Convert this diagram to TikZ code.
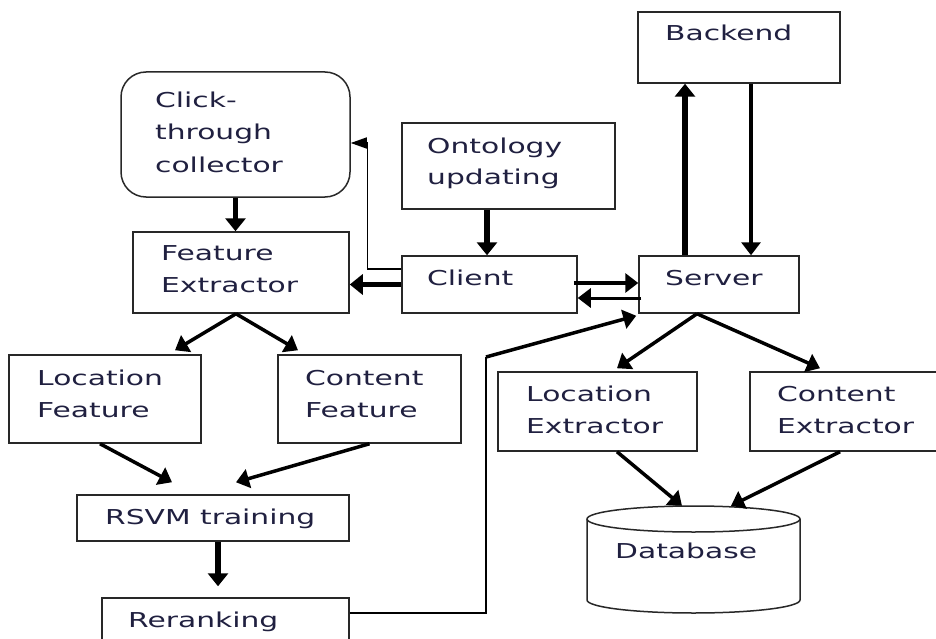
\documentclass[tikz,border=0pt]{standalone}
\usepackage{fontspec}
\newfontfamily\lblfont{DejaVu Sans}[FakeStretch=1.45]
\usetikzlibrary{arrows.meta,calc}
\definecolor{txt}{RGB}{32,32,64}
\definecolor{ln}{RGB}{40,40,40}
\tikzset{
  box/.style={draw=ln, line width=1.5pt, inner sep=0pt, fill=white},
  lbl/.style={anchor=base west, inner sep=0pt, text=txt, align=left,
    font=\lblfont\fontsize{20.5}{32}\selectfont},
  fat/.style={line width=5.5pt, -{Triangle[length=13pt,width=20pt]}},
  med/.style={line width=3.5pt, -{Triangle[length=13pt,width=19pt]}},
  thinl/.style={line width=1.5pt},
  thinarr/.style={line width=1.5pt, -{Triangle[length=16pt,width=11pt]}}
}
\begin{document}
\begin{tikzpicture}[x=1pt,y=-1pt]
\useasboundingbox (0,0) rectangle (936,639);
\fill[white] (0,0) rectangle (936,639);
\clip (0,0) rectangle (936,639);
% boxes
\node[box, rounded corners=25pt, minimum width=229pt, minimum height=125pt] (click) at (235.5,134.5) {};
\node[box, minimum width=216pt, minimum height=81pt] (fe) at (241,272.5) {};
\node[box, minimum width=213pt, minimum height=86pt] (onto) at (508.5,166) {};
\node[box, minimum width=175pt, minimum height=57pt] (client) at (489.5,284.5) {};
\node[box, minimum width=160pt, minimum height=57pt] (server) at (719,284.5) {};
\node[box, minimum width=202pt, minimum height=71pt] (backend) at (739,47.5) {};
\node[box, minimum width=192pt, minimum height=88pt] (locf) at (105,399) {};
\node[box, minimum width=183pt, minimum height=88pt] (conf) at (369.5,399) {};
\node[box, minimum width=272pt, minimum height=46pt] (rsvm) at (213,518) {};
\node[box, minimum width=247pt, minimum height=52pt] (rerank) at (225.5,624) {};
\node[box, minimum width=199pt, minimum height=79pt] (locx) at (597.5,411.5) {};
\node[box, minimum width=200pt, minimum height=79pt] (conx) at (850,411.5) {};
% database cylinder
\node[inner sep=0pt, minimum width=213pt, minimum height=107pt] (db) at (693.5,559.5) {};
\draw[ln, line width=1.5pt, fill=white] (587,519) -- (587,600)
  arc[start angle=180, end angle=360, x radius=106.5pt, y radius=13pt] -- (800,519);
\draw[ln, line width=1.5pt] (693.5,519) ellipse [x radius=106.5pt, y radius=13pt];
% labels (base = baseline of the last line)
\node[lbl] (tclick) at (155,172) {Click-\\through\\collector};
\node[lbl] (tfe) at (161,292) {Feature\\Extractor};
\node[lbl] (tonto) at (427,185) {Ontology\\updating};
\node[lbl] (tclient) at (427,285) {Client};
\node[lbl] (tserver) at (665,285) {Server};
\node[lbl] (tbackend) at (665,40.7) {Backend};
\node[lbl] (tlocf) at (37,417) {Location\\Feature};
\node[lbl] (tconf) at (305,417) {Content\\Feature};
\node[lbl] (trsvm) at (105,524) {RSVM training};
\node[lbl] (trerank) at (128,627) {Reranking};
\node[lbl] (tlocx) at (526,433) {Location\\Extractor};
\node[lbl] (tconx) at (777,433) {Content\\Extractor};
\node[lbl] (tdb) at (615,558) {Database};
% connectors
\draw[fat] (click.south) -- (click.south |- fe.north);
\coordinate (o1) at ([xshift=-21.5pt]onto.south);
\draw[fat] (o1) -- (o1 |- client.north);
\draw[fat] (client.west) -- (client.west -| fe.east);
\draw[thinarr] ([yshift=15.5pt]client.west) -- ++(-34,0) |- ([yshift=-8.5pt]click.east);
\coordinate (c1) at ([xshift=-4pt,yshift=1.5pt]client.east);
\draw[med] (c1) -- (c1 -| server.west);
\coordinate (s1) at ([xshift=3pt,yshift=-13.5pt]server.west);
\draw[med, line width=3pt] (s1) -- (s1 -| client.east);
\coordinate (s2) at ([xshift=-34pt]server.north);
\draw[fat] (s2) -- (s2 |- backend.south);
\coordinate (b1) at ([xshift=12pt]backend.south);
\draw[med] (b1) -- (b1 |- server.north);
\draw[med] ([xshift=-5pt]fe.south) -- ([xshift=70pt,yshift=4pt]locf.north);
\draw[med] ([xshift=-5pt]fe.south) -- ([xshift=-71.5pt,yshift=4pt]conf.north);
\draw[med] ([xshift=-5pt]locf.south) -- ([xshift=-41pt,yshift=12pt]rsvm.north);
\draw[med] (conf.south) -- ([xshift=23pt,yshift=12pt]rsvm.north);
\draw[fat] ([xshift=5pt]rsvm.south) -- ([xshift=-7.5pt,yshift=11pt]rerank.north);
\coordinate (r1) at ([yshift=11pt]rerank.east);
\coordinate (r2) at (486,357);
\draw[thinl] (r1) -- (r1 -| r2) -- (r2);
\draw[med] (r2) -- ([xshift=-2pt,yshift=-2pt]server.south west);
\draw[med] ([xshift=-22pt]server.south) -- ([xshift=19.5pt,yshift=3pt]locx.north);
\draw[med] ([xshift=-22pt]server.south) -- ([xshift=-30pt,yshift=3pt]conx.north);
\draw[med] ([xshift=19.5pt]locx.south) -- ([xshift=-11.5pt]db.north);
\draw[med] ([xshift=-10pt]conx.south) -- ([xshift=37.5pt]db.north);
\end{tikzpicture}
\end{document}
